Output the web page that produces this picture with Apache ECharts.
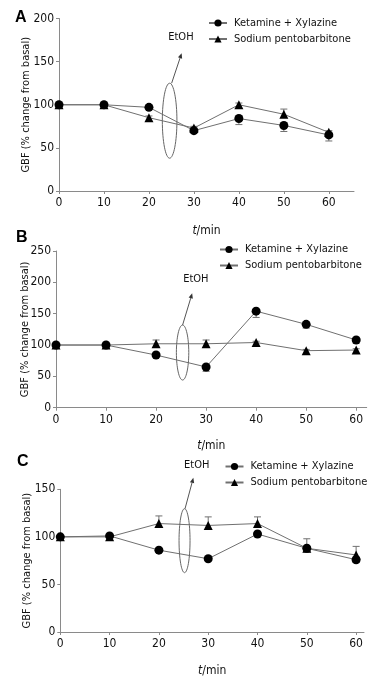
<!DOCTYPE html>
<html><head><meta charset="utf-8">
<script src="https://cdn.jsdelivr.net/npm/echarts@6/dist/echarts.min.js"></script>
<style>html,body{margin:0;padding:0;background:#fff}#c{width:385px;height:689px}</style>
</head><body><div id="c"></div>
<script>
// ---- data ----
const tMin = [0, 10, 20, 30, 40, 50, 60];
const seriesNames = ['Ketamine + Xylazine', 'Sodium pentobarbitone'];
// Panel A
const aKet = [100, 100, 97, 70, 84, 76, 65];
const aKetErr = [0, 0, 2, 2, 7, 7, 7];
const aPen = [100, 100, 85, 73, 100, 89, 68];
const aPenErr = [0, 0, 2, 2, 2, 6, 2];
// Panel B
const bKet = [100, 100, 84, 65, 154, 133, 108];
const bKetErr = [0, 0, 3, 7, 10, 6, 5];
const bPen = [100, 100, 102, 102, 104, 91, 92];
const bPenErr = [0, 0, 6, 6, 2, 2, 2];
// Panel C
const cKet = [100, 101, 86, 77, 103, 88, 76];
const cKetErr = [0, 0, 2, 2, 2, 4, 3];
const cPen = [100, 100, 114, 112, 114, 88, 81];
const cPenErr = [0, 0, 8, 9, 7, 10, 9];
// y-axis ranges
const yMax = [200, 250, 150];
const panelLetters = ['A', 'B', 'C'];
// EtOH annotation anchor (data coords of ellipse centre)
const etohAnchor = [[24.6, 81.5], [25.3, 88], [25.2, 96]];

const FONT = '"DejaVu Sans Condensed", "DejaVu Sans", sans-serif';
const AX = '#8a8a8a';
const LINE = '#707070';
const TXT = '#111';

const panels = [
  {ket: aKet, ketErr: aKetErr, pen: aPen, penErr: aPenErr},
  {ket: bKet, ketErr: bKetErr, pen: bPen, penErr: bPenErr},
  {ket: cKet, ketErr: cKetErr, pen: cPen, penErr: cPenErr}
];
const grids = [
  {left: 59, top: 18.5, width: 295, height: 172.5},
  {left: 56, top: 251, width: 310.7, height: 156.7},
  {left: 60.3, top: 489.3, width: 303.7, height: 142.7}
];
const xMax = [65.6, 62.1, 61.6];
const xNameGap = [34, 32, 33];
const yNameGap = [27, 25, 28];
const legendPos = [[208, 17.5], [219, 244], [224.5, 461]];
const letterPos = [[15, 10], [16, 230], [17, 454]];

const chart = echarts.init(document.getElementById('c'), null, {renderer: 'canvas'});

const xAxes = [], yAxes = [], series = [], legends = [];
panels.forEach((p, i) => {
  xAxes.push({
    gridIndex: i, type: 'value', min: 0, max: xMax[i], interval: 10,
    name: '{i|t}/min', nameLocation: 'middle', nameGap: xNameGap[i], nameMoveOverlap: false,
    nameTextStyle: {fontFamily: FONT, fontSize: 12, color: TXT, rich: {i: {fontStyle: 'italic', fontFamily: FONT, fontSize: 12, color: TXT}}},
    axisLine: {lineStyle: {color: AX, width: 1}},
    axisTick: {show: true, length: 3, lineStyle: {color: AX}, customValues: tMin},
    axisLabel: {fontFamily: FONT, fontSize: 12, color: TXT, margin: 6, customValues: tMin},
    splitLine: {show: false}
  });
  yAxes.push({
    gridIndex: i, type: 'value', min: 0, max: yMax[i], interval: 50,
    name: 'GBF (% change from basal)', nameLocation: 'middle', nameGap: yNameGap[i], nameMoveOverlap: false,
    nameTextStyle: {fontFamily: FONT, fontSize: 11, color: TXT},
    axisLine: {show: true, lineStyle: {color: AX, width: 1}},
    axisTick: {show: true, length: 3, lineStyle: {color: AX}},
    axisLabel: {fontFamily: FONT, fontSize: 12, color: TXT, margin: 5},
    splitLine: {show: false}
  });
  const mkErr = (vals, errs, dir) => tMin.map((t, k) => [t, vals[k], vals[k] + dir * errs[k]]);
  const errSeries = (data) => ({
    type: 'custom', xAxisIndex: i, yAxisIndex: i, silent: true, z: 1,
    data: data,
    renderItem: (params, api) => {
      const e = api.value(2), v = api.value(1);
      if (e === v) return null;
      const p0 = api.coord([api.value(0), v]);
      const p1 = api.coord([api.value(0), e]);
      const st = {stroke: LINE, lineWidth: 1};
      return {type: 'group', children: [
        {type: 'line', shape: {x1: p0[0], y1: p0[1], x2: p1[0], y2: p1[1]}, style: st},
        {type: 'line', shape: {x1: p1[0] - 3.5, y1: p1[1], x2: p1[0] + 3.5, y2: p1[1]}, style: st}
      ]};
    }
  });
  series.push(errSeries(mkErr(p.ket, p.ketErr, -1)));
  series.push(errSeries(mkErr(p.pen, p.penErr, 1)));
  series.push({
    name: seriesNames[0], type: 'line', xAxisIndex: i, yAxisIndex: i, z: 3,
    data: tMin.map((t, k) => [t, p.ket[k]]),
    symbol: 'circle', symbolSize: 9, showAllSymbol: true,
    itemStyle: {color: '#000'}, lineStyle: {color: LINE, width: 1},
    emphasis: {disabled: true}, animation: false
  });
  series.push({
    name: seriesNames[1], type: 'line', xAxisIndex: i, yAxisIndex: i, z: 3,
    data: tMin.map((t, k) => [t, p.pen[k]]),
    symbol: 'triangle', symbolSize: 9, showAllSymbol: true,
    itemStyle: {color: '#000'}, lineStyle: {color: LINE, width: 1},
    emphasis: {disabled: true}, animation: false
  });
  legends.push({
    data: seriesNames, orient: 'vertical', left: legendPos[i][0], top: legendPos[i][1],
    itemWidth: 18, itemHeight: 9, itemGap: 5, padding: 0,
    textStyle: {fontFamily: FONT, fontSize: 11, color: TXT, padding: [0, 0, 0, 2]},
    selectedMode: false
  });
});

chart.setOption({
  animation: false,
  backgroundColor: '#fff',
  grid: grids,
  xAxis: xAxes, yAxis: yAxes, legend: legends, series: series
});

// annotations
const offsets = [
  {rx: 7.3, ry: 37.5, a0: [2, -37.5], a1: [12, -67.4], t: [11.3, -83.7]},
  {rx: 6.2, ry: 27.5, a0: [0, -27.5], a1: [9.6, -59.2], t: [13.3, -73.2]},
  {rx: 5.5, ry: 32, a0: [0.5, -32], a1: [8.8, -62.8], t: [12.2, -75.5]}
];
const g = [];
etohAnchor.forEach((a, i) => {
  const c = chart.convertToPixel({gridIndex: i}, a);
  const o = offsets[i];
  const x0 = c[0] + o.a0[0], y0 = c[1] + o.a0[1];
  const x1 = c[0] + o.a1[0], y1 = c[1] + o.a1[1];
  const ang = Math.atan2(y1 - y0, x1 - x0);
  const L = 5, W = 2.2;
  const bx = x1 - L * Math.cos(ang), by = y1 - L * Math.sin(ang);
  g.push({type: 'ellipse', shape: {cx: c[0], cy: c[1], rx: o.rx, ry: o.ry}, style: {fill: 'none', stroke: '#666', lineWidth: 1}, z: 10});
  g.push({type: 'line', shape: {x1: x0, y1: y0, x2: bx, y2: by}, style: {stroke: '#555', lineWidth: 1}, z: 10});
  g.push({type: 'polygon', shape: {points: [[x1, y1], [bx + W * Math.sin(ang), by - W * Math.cos(ang)], [bx - W * Math.sin(ang), by + W * Math.cos(ang)]]}, style: {fill: '#333'}, z: 10});
  g.push({type: 'text', x: c[0] + o.t[0], y: c[1] + o.t[1], style: {text: 'EtOH', font: '11px ' + FONT, fill: TXT, align: 'center', verticalAlign: 'middle'}, z: 10});
  g.push({type: 'text', left: letterPos[i][0], top: letterPos[i][1], style: {text: panelLetters[i], font: 'bold 16px "Liberation Sans", Arial, sans-serif', fill: '#000'}, z: 10});
});
chart.setOption({graphic: g});
</script>
</body></html>
